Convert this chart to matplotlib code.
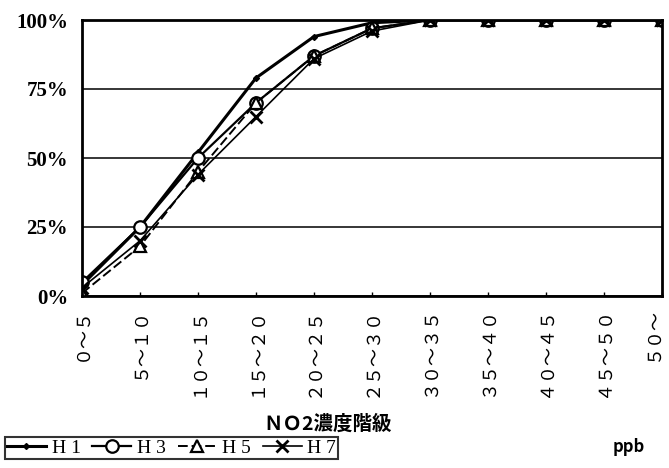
import numpy as np
import matplotlib
matplotlib.use("Agg")
from matplotlib import pyplot as plt
from matplotlib.ticker import PercentFormatter

plt.rcParams['font.family'] = ['Noto Sans CJK JP', 'DejaVu Sans']

# NO2 concentration classes (ppb)
categories = ["０～５", "５～１０", "１０～１５", "１５～２０", "２０～２５", "２５～３０",
              "３０～３５", "３５～４０", "４０～４５", "４５～５０", "５０～"]

# cumulative share (%)
h1 = [4, 25, 52, 79, 94, 99, 100, 100, 100, 100, 100]
h3 = [5, 25, 50, 70, 87, 97, 100, 100, 100, 100, 100]
h5 = [1, 18, 45, 70, 87, 97, 100, 100, 100, 100, 100]
h7 = [3, 20, 44, 65, 86, 96, 100, 100, 100, 100, 100]

fig = plt.figure(figsize=(6.69, 4.68), dpi=100)
ax = fig.add_axes([82/669, 1-296/468, 580/669, 276/468])

x = np.arange(len(categories))
ax.plot(x, h1, color='black', lw=2.2, marker='D', ms=3, label='H 1')
ax.plot(x, h3, color='black', lw=1.6, marker='o', ms=9, mfc='white', mew=1.6, label='H 3')
ax.plot(x, h5, color='black', lw=1.4, ls=(0, (5, 2)), marker='^', ms=8, mfc='white', mew=1.6, label='H 5')
ax.plot(x, h7, color='black', lw=1.2, marker='x', ms=9, mew=2, label='H 7')

ax.set_xlim(0, len(categories) - 1)
ax.set_ylim(0, 100)
ax.set_yticks([0, 25, 50, 75, 100])
ax.yaxis.set_major_formatter(PercentFormatter(decimals=0))
for t in ax.get_yticklabels():
    t.set_family('Liberation Serif')
    t.set_fontweight('bold')
    t.set_fontsize(15)
ax.tick_params(axis='y', length=0, pad=10)
ax.yaxis.grid(True, color='black', lw=1.1)
ax.set_axisbelow(True)

ax.set_xticks(x)
ax.set_xticklabels(categories, rotation=90, fontsize=13, va='top', ha='center')
ax.get_xticklabels()[-1].set_ha('right')
ax.tick_params(axis='x', direction='in', length=3, width=1, pad=8)

for s in ax.spines.values():
    s.set_linewidth(2)

fig.text(0.49, 1 - 424/468, "ＮＯ2濃度階級", ha='center', va='center', fontsize=14,
         fontweight='bold', family=['Noto Sans CJK JP', 'DejaVu Sans'])
fig.text(0.94, 0.045, "ppb", ha='center', va='center', fontsize=12, fontweight='bold')

leg = ax.legend(loc='upper left', bbox_to_anchor=(5/669, 1 - 437/468), bbox_transform=fig.transFigure,
                ncol=4, frameon=True, fancybox=False, edgecolor='black', handlelength=2.0,
                handletextpad=0.3, columnspacing=0.6, borderpad=0.1, borderaxespad=0,
                prop={'family': 'Liberation Serif', 'size': 14})
leg.get_frame().set_linewidth(1.5)

fig.savefig("out.png", dpi=100)
